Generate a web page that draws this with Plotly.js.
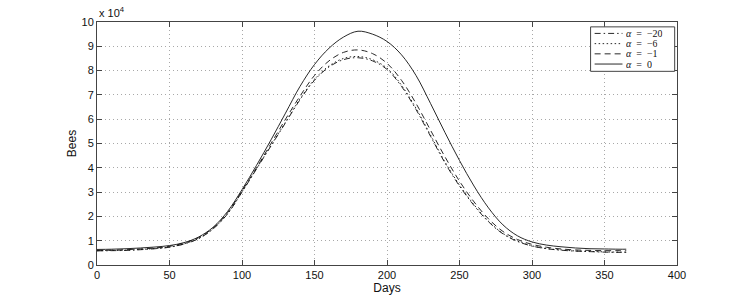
<!DOCTYPE html>
<html>
<head>
<meta charset="utf-8">
<script src="https://cdn.plot.ly/plotly-3.0.1.min.js"></script>
<style>html,body{margin:0;padding:0;background:#fff;}#chart{width:747px;height:299px;}</style>
</head>
<body>
<div id="chart"></div>
<script>
// Days sampled
var days = [0,10,20,30,40,50,60,70,80,90,100,110,120,130,140,150,160,170,180,190,200,210,220,230,240,250,260,270,280,290,300,310,320,330,340,350,360,365];
// Bees (in units of 10^4)
var beesAlphaM20 = [0.58,0.59,0.60,0.63,0.67,0.73,0.86,1.08,1.48,2.10,3.00,3.95,4.90,5.85,6.80,7.60,8.15,8.45,8.53,8.40,8.05,7.35,6.40,5.30,4.20,3.25,2.45,1.78,1.28,0.97,0.78,0.67,0.61,0.57,0.55,0.53,0.52,0.52];
var beesAlphaM6  = [0.59,0.60,0.61,0.64,0.68,0.74,0.87,1.09,1.49,2.11,3.01,3.97,4.92,5.88,6.84,7.64,8.19,8.50,8.58,8.45,8.10,7.40,6.45,5.35,4.24,3.29,2.48,1.80,1.30,0.99,0.79,0.68,0.62,0.58,0.56,0.54,0.53,0.53];
var beesAlphaM1  = [0.60,0.61,0.63,0.66,0.70,0.77,0.90,1.12,1.52,2.15,3.05,4.00,5.00,6.00,6.95,7.80,8.40,8.75,8.85,8.70,8.30,7.60,6.65,5.55,4.45,3.45,2.60,1.90,1.38,1.05,0.85,0.73,0.66,0.62,0.60,0.59,0.59,0.59];
var beesAlpha0   = [0.64,0.65,0.67,0.70,0.74,0.80,0.92,1.15,1.55,2.20,3.10,4.10,5.15,6.25,7.35,8.25,8.92,9.38,9.62,9.50,9.20,8.65,7.80,6.65,5.45,4.30,3.25,2.35,1.65,1.20,0.95,0.82,0.75,0.70,0.67,0.66,0.65,0.65];
var seriesAlpha = ['\u221220','\u22126','\u22121','0'];
var seriesNames = seriesAlpha.map(function(a){ return '\u03b1 = ' + a; });
var xTicks = [0,50,100,150,200,250,300,350,400];
var yTicks = [0,1,2,3,4,5,6,7,8,9,10];

var dashes = ['6px,3px,1.5px,3px','1.5px,2.5px','6px,4px','solid'];
var allY = [beesAlphaM20, beesAlphaM6, beesAlphaM1, beesAlpha0];
var traces = allY.map(function(y,i){
  return {x: days, y: y, type:'scatter', mode:'lines', name: seriesNames[i],
    line:{color:'#111', width:0.9, dash:dashes[i], shape:'spline', smoothing:1},
    showlegend:false, hoverinfo:'skip'};
});

var axisCommon = {
  showline:true, linecolor:'#444', linewidth:1, mirror:'ticks',
  ticks:'inside', ticklen:5, tickcolor:'#444', tickwidth:1,
  showgrid:true, gridcolor:'#a8a8a8', griddash:'1px,3px', gridwidth:1,
  zeroline:false, tickfont:{family:'Liberation Sans, Arial, sans-serif', size:11, color:'#111'}
};

var xaxis = Object.assign({}, axisCommon, {
  range:[0,400], tickvals:xTicks, ticktext:xTicks.map(String),
  title:{text:'Days', font:{family:'Liberation Sans, Arial, sans-serif', size:12, color:'#111'}, standoff:1}
});
var yaxis = Object.assign({}, axisCommon, {
  range:[0,10], tickvals:yTicks, ticktext:yTicks.map(String),
  title:{text:'Bees', font:{family:'Liberation Sans, Arial, sans-serif', size:12, color:'#111'}, standoff:2}
});

// Custom MATLAB-style legend
var legX0 = 0.851, legX1 = 0.996, legY1 = 0.98, rowH = 0.042;
var shapes = [{type:'rect', xref:'paper', yref:'paper', x0:legX0, x1:legX1, y0:legY1-0.027-4*rowH+0.012, y1:legY1,
  line:{color:'#444', width:1}, fillcolor:'#fff', layer:'above'}];
var annotations = [{xref:'paper', yref:'paper', x:0, y:1.005, xanchor:'left', yanchor:'bottom',
  text:'x 10<sup>4</sup>', showarrow:false, font:{family:'Liberation Sans, Arial, sans-serif', size:11, color:'#111'}}];
seriesAlpha.forEach(function(a,i){
  var yy = legY1 - 0.027 - i*rowH;
  shapes.push({type:'line', xref:'paper', yref:'paper', x0:legX0+0.007, x1:legX0+0.055, y0:yy, y1:yy,
    line:{color:'#111', width:0.9, dash:dashes[i]}, layer:'above'});
  annotations.push({xref:'paper', yref:'paper', x:legX0+0.060, y:yy, xanchor:'left', yanchor:'middle',
    text:'<i>\u03b1</i>\u2002=\u2002'+a, showarrow:false, height:9, borderpad:0,
    font:{family:'Liberation Serif, Times New Roman, serif', size:10, color:'#111'}});
});

var layout = {
  width:747, height:299,
  margin:{l:97, r:70, t:22, b:34},
  paper_bgcolor:'#fff', plot_bgcolor:'#fff',
  xaxis:xaxis, yaxis:yaxis, shapes:shapes, annotations:annotations, showlegend:false
};
Plotly.newPlot('chart', traces, layout, {displayModeBar:false, staticPlot:true});
</script>
</body>
</html>
